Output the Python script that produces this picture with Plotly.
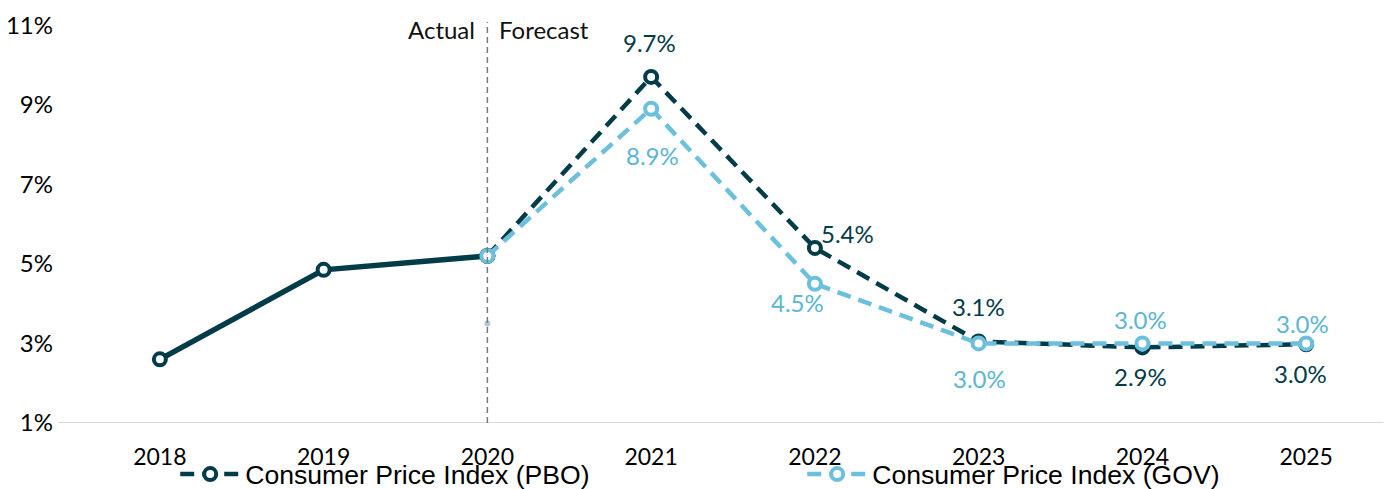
import plotly.graph_objects as go

years = [2018, 2019, 2020, 2021, 2022, 2023, 2024, 2025]
pbo_actual_years = [2018, 2019, 2020]
pbo_actual = [2.6, 4.85, 5.2]
forecast_years = [2020, 2021, 2022, 2023, 2024, 2025]
pbo_forecast = [5.2, 9.7, 5.4, 3.05, 2.9, 2.98]
gov_forecast = [5.2, 8.9, 4.5, 3.0, 3.0, 3.0]
pbo_labels = ["", "9.7%", "5.4%", "3.1%", "2.9%", "3.0%"]
gov_labels = ["", "8.9%", "4.5%", "3.0%", "3.0%", "3.0%"]
y_ticks = [1, 3, 5, 7, 9, 11]
y_ticktext = ["1%", "3%", "5%", "7%", "9%", "11%"]
stray_point = (2020, 3.5)

PBO = "#023c49"
GOV = "#6cc0de"
GOV_TXT = "#5ab6d6"
FONT = "Lato"
LBL = 24

fig = go.Figure()

def mk(color):
    return dict(symbol="circle", size=12, color="white", line=dict(color=color, width=4))

fig.add_trace(go.Scatter(
    x=pbo_actual_years, y=pbo_actual, mode="lines+markers",
    line=dict(color=PBO, width=5.5), marker=mk(PBO),
    showlegend=False, hoverinfo="skip"))

fig.add_trace(go.Scatter(
    x=forecast_years, y=pbo_forecast, mode="lines+markers",
    name="Consumer Price Index (PBO)",
    line=dict(color=PBO, width=4.5, dash="14px,8px"), marker=mk(PBO)))

fig.add_trace(go.Scatter(
    x=forecast_years, y=gov_forecast, mode="lines+markers",
    name="Consumer Price Index (GOV)",
    line=dict(color=GOV, width=4.5, dash="14px,8px"), marker=mk(GOV)))

fig.add_trace(go.Scatter(
    x=[stray_point[0]], y=[stray_point[1]], mode="markers",
    marker=dict(size=6, color="#b7c3e0"), showlegend=False, hoverinfo="skip"))

# vertical divider
fig.add_shape(type="line", xref="x", yref="y", x0=2020, x1=2020, y0=1, y1=11.08,
              line=dict(color="#7a7a7a", width=1.5, dash="6px,4px"))

# Actual / Forecast
fig.add_annotation(x=2020, y=11, xref="x", yref="y", text="Actual", showarrow=False,
                   xanchor="right", xshift=-10, yshift=-4, font=dict(family=FONT, size=LBL, color="#111"))
fig.add_annotation(x=2020, y=11, xref="x", yref="y", text="Forecast", showarrow=False,
                   xanchor="left", xshift=10, yshift=-4, font=dict(family=FONT, size=LBL, color="#111"))

# data labels (x shift, y shift) in px
pbo_shift = [None, (-2, 34), (33, 14), (0, 35), (-2, -29), (-6, -29)]
gov_shift = [None, (1, -47), (-17, -19), (1, -35), (-2, 24), (-4, 20)]

for xv, yv, t, s in zip(forecast_years, pbo_forecast, pbo_labels, pbo_shift):
    if t:
        fig.add_annotation(x=xv, y=yv, text=t, showarrow=False, xshift=s[0], yshift=s[1],
                           font=dict(family=FONT, size=LBL, color=PBO))
for xv, yv, t, s in zip(forecast_years, gov_forecast, gov_labels, gov_shift):
    if t:
        fig.add_annotation(x=xv, y=yv, text=t, showarrow=False, xshift=s[0], yshift=s[1],
                           font=dict(family=FONT, size=LBL, color=GOV_TXT))

# page body has an 8px margin; figure sized to fit the window
fig.update_layout(
    width=1383, height=481,
    margin=dict(l=50, r=1, t=14, b=66, autoexpand=False),
    paper_bgcolor="white", plot_bgcolor="white",
    font=dict(family=FONT, size=22, color="#000"),
    xaxis=dict(range=[2017.378, 2025.512], tickmode="array", tickvals=years,
               ticktext=[str(y) for y in years], showgrid=False, zeroline=False,
               showline=False, ticks="", ticklabelstandoff=18,
               tickfont=dict(family=FONT, size=23, color="#000")),
    yaxis=dict(range=[1, 11.08], tickmode="array", tickvals=y_ticks, ticktext=y_ticktext,
               showgrid=False, zeroline=False, showline=False, ticks="",
               ticklabelstandoff=4,
               tickfont=dict(family=FONT, size=24, color="#000")),
    legend=dict(orientation="h", x=0.088, xanchor="left", y=-0.128, yanchor="middle",
                entrywidth=552, font=dict(family="Liberation Sans", size=26.6, color="#000"),
                bgcolor="rgba(0,0,0,0)", itemwidth=60),
    showlegend=True,
)

# baseline
fig.add_shape(type="line", xref="paper", yref="y", x0=0, x1=1, y0=1, y1=1,
              line=dict(color="#d9d9d9", width=2), layer="below")

fig.write_html("out.html")
